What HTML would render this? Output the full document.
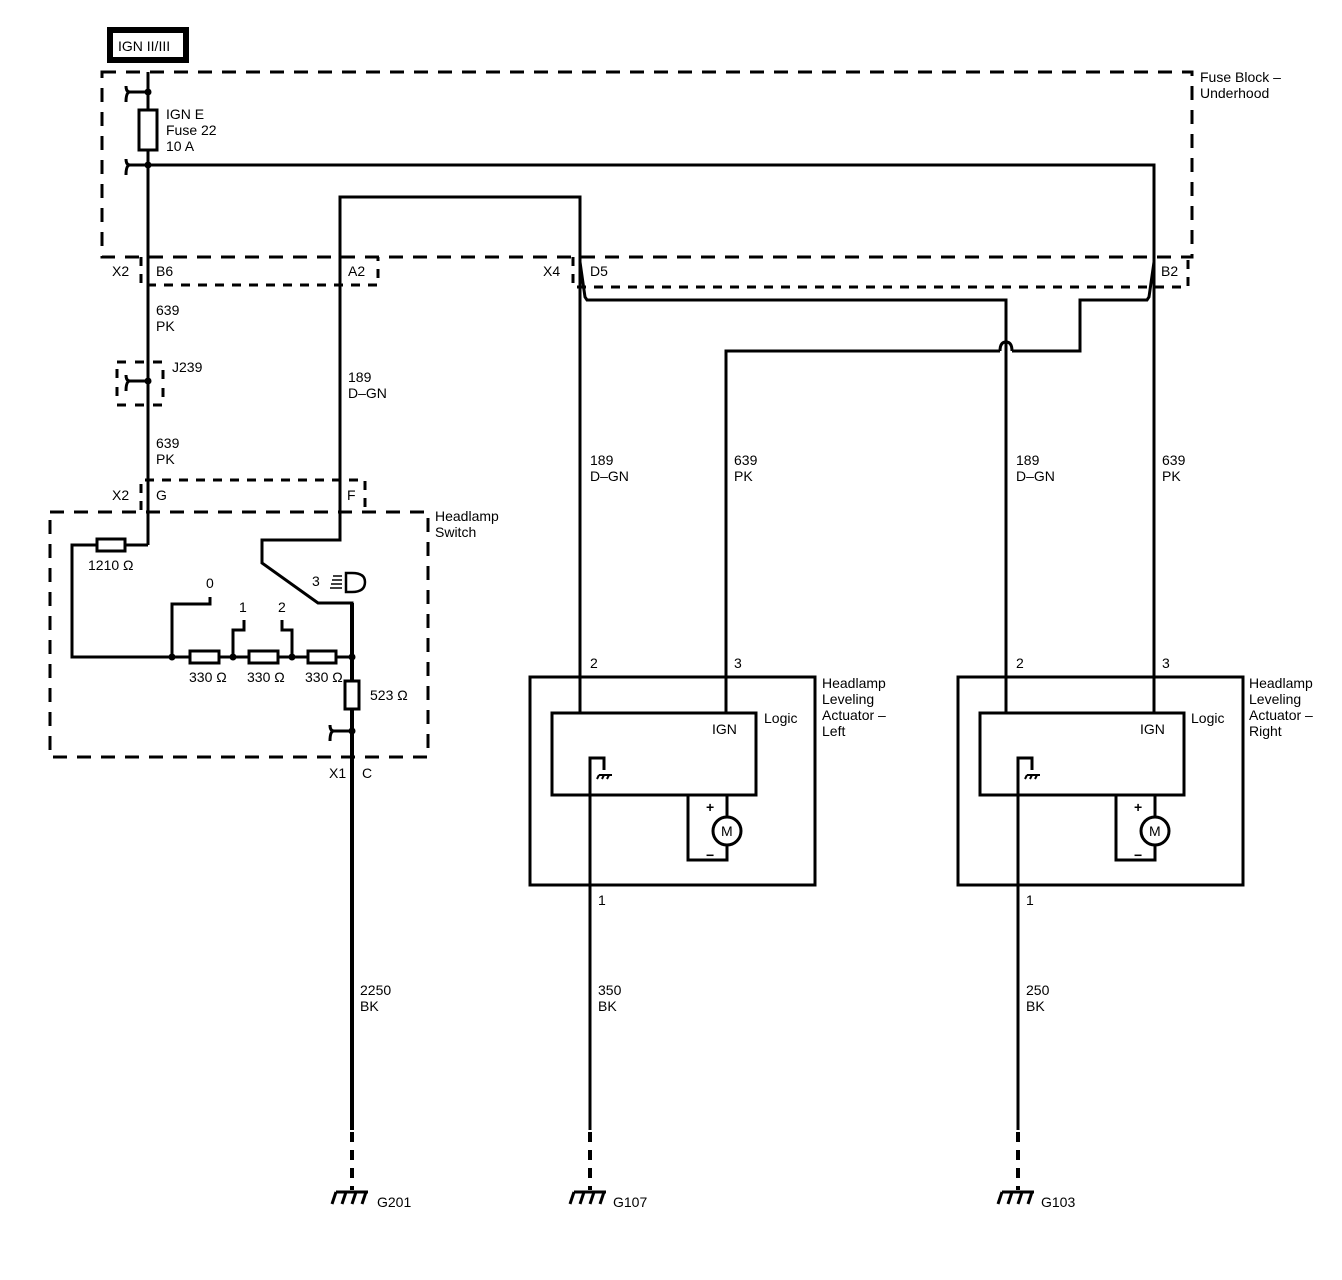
<!DOCTYPE html>
<html><head><meta charset="utf-8"><style>
html,body{margin:0;padding:0;background:#fff;}
svg{display:block;}
text{font-family:"Liberation Sans",sans-serif;font-size:14px;fill:#000;}
</style></head><body>
<svg width="1342" height="1280" viewBox="0 0 1342 1280" xmlns="http://www.w3.org/2000/svg">
<g fill="none" stroke="#000">
<!-- IGN box -->
<rect x="110" y="30" width="76" height="30" stroke-width="6"/>
<!-- dashed containers -->
<rect x="102" y="72" width="1090" height="185" stroke-width="3" stroke-dasharray="14,10"/>
<polyline points="141,257 141,285 378,285 378,257" stroke-width="3" stroke-dasharray="9,8"/>
<polyline points="573,257 573,287 1188,287 1188,257" stroke-width="3" stroke-dasharray="9,8"/>
<polyline points="141,510 141,480 365,480 365,510" stroke-width="3" stroke-dasharray="9,8"/>
<rect x="50" y="512" width="378" height="245" stroke-width="3" stroke-dasharray="14,10"/>
<rect x="117" y="362" width="46" height="43" stroke-width="3" stroke-dasharray="9,9"/>

<g stroke-width="3">
<!-- main feed -->
<line x1="148" y1="72" x2="148" y2="545"/>
<polyline points="148,165 1154,165 1154,713"/>
<!-- A2 wire -->
<polyline points="580,713 580,197 340,197 340,540 262,540 262,563 318,603 352,603 352,1130"/>
<!-- D5 crossover -->
<polyline points="580,262 585,297 587,300 1006,300 1006,713"/>
<!-- B2 crossover -->
<polyline points="1154,262 1149,297 1147,300 1080,300 1080,351 1012,351"/>
<path d="M1012,351 Q1012,342 1006,342 Q1000,342 1000,351"/>
<polyline points="1000,351 726,351 726,713"/>
<!-- switch internals -->
<polyline points="148,545 72,545 72,657 352,657"/>
<polyline points="172,657 172,604 210,604 210,597"/>
<polyline points="233,657 233,630 244,630 244,620"/>
<polyline points="292,657 292,630 282,630 282,620"/>
<!-- ground drops -->
<line x1="590" y1="758" x2="590" y2="1130"/>
<line x1="1018" y1="758" x2="1018" y2="1130"/>
</g>
<!-- heavier wire -->
<line x1="352" y1="603" x2="352" y2="1130" stroke-width="4"/>
<!-- dashed ground ends -->
<g stroke-width="4" stroke-dasharray="10,8">
<line x1="352" y1="1132" x2="352" y2="1190"/>
<line x1="590" y1="1132" x2="590" y2="1190"/>
<line x1="1018" y1="1132" x2="1018" y2="1190"/>
</g>
<!-- fuse & resistors -->
<g stroke-width="3" fill="#fff">
<rect x="139" y="110" width="18" height="40"/>
<rect x="97" y="539" width="28" height="12"/>
<rect x="190" y="651" width="29" height="12"/>
<rect x="249" y="651" width="29" height="12"/>
<rect x="308" y="651" width="28" height="12"/>
<rect x="345" y="681" width="14" height="28"/>
</g>
<!-- hooks -->
<g stroke-width="3">
<path d="M148,92 H130 M130,92 Q126,92 126,86 M130,92 Q126,92 126,102"/>
<path d="M148,165 H130 M130,165 Q126,165 126,159 M130,165 Q126,165 126,175"/>
<path d="M148,381 H130 M130,381 Q126,381 126,375 M130,381 Q126,381 126,391"/>
<path d="M352,731 H334 M334,731 Q330,731 330,725 M334,731 Q330,731 330,741"/>
</g>
<!-- ground symbols -->
<g stroke-width="3">
<path d="M336,1192 H368 M336,1192 L332,1204 M346,1192 L342,1204 M356,1192 L352,1204 M366,1192 L362,1204"/>
<path d="M574,1192 H606 M574,1192 L570,1204 M584,1192 L580,1204 M594,1192 L590,1204 M604,1192 L600,1204"/>
<path d="M1002,1192 H1034 M1002,1192 L998,1204 M1012,1192 L1008,1204 M1022,1192 L1018,1204 M1032,1192 L1028,1204"/>
</g>
<!-- headlamp icon -->
<g stroke-width="2.5">
<path d="M346,573 H352 Q365,573 365,582 Q365,592 352,592 H346 Z"/>
<path d="M333,576 H342 M332,580 H342 M331,584 H342 M330,588 H342" stroke-width="1.5"/>
</g>
<!-- actuators -->
<g id="act" stroke-width="3">
<rect x="530" y="677" width="285" height="208"/>
<rect x="552" y="713" width="204" height="82"/>
<polyline points="590,885 590,758 604,758 604,770"/>
<path d="M599,775 H612 M599,775 L597,779 M604,775 L602,779 M609,775 L607,779" stroke-width="2"/>
<polyline points="688,795 688,860 727,860 727,845"/>
<line x1="727" y1="795" x2="727" y2="817"/>
<circle cx="727" cy="831" r="14"/>
</g>
<use href="#act" transform="translate(428,0)"/>
</g>
<!-- dots -->
<g fill="#000">
<circle cx="148" cy="92" r="3.5"/><circle cx="148" cy="165" r="3.5"/><circle cx="148" cy="381" r="3.5"/>
<circle cx="172" cy="657" r="3.5"/><circle cx="233" cy="657" r="3.5"/><circle cx="292" cy="657" r="3.5"/><circle cx="352" cy="657" r="3.5"/><circle cx="352" cy="731" r="3.5"/>
</g>
<!-- text -->
<text x="118" y="51" font-size="13">IGN II/III</text>
<text x="166" y="119">IGN E</text><text x="166" y="135">Fuse 22</text><text x="166" y="151">10 A</text>
<text x="1200" y="82">Fuse Block –</text><text x="1200" y="98">Underhood</text>
<text x="112" y="276">X2</text><text x="156" y="276">B6</text><text x="348" y="276">A2</text>
<text x="543" y="276">X4</text><text x="590" y="276">D5</text><text x="1161" y="276">B2</text>
<text x="156" y="315">639</text><text x="156" y="331">PK</text>
<text x="172" y="372">J239</text>
<text x="156" y="448">639</text><text x="156" y="464">PK</text>
<text x="348" y="382">189</text><text x="348" y="398">D–GN</text>
<text x="112" y="500">X2</text><text x="156" y="500">G</text><text x="347" y="500">F</text>
<text x="435" y="521">Headlamp</text><text x="435" y="537">Switch</text>
<text x="88" y="570" font-size="13">1210 Ω</text>
<text x="206" y="588">0</text><text x="239" y="612">1</text><text x="278" y="612">2</text><text x="312" y="586">3</text>
<text x="189" y="682" font-size="13">330 Ω</text><text x="247" y="682" font-size="13">330 Ω</text><text x="305" y="682" font-size="13">330 Ω</text>
<text x="370" y="700" font-size="13">523 Ω</text>
<text x="329" y="778">X1</text><text x="362" y="778">C</text>
<text x="590" y="465">189</text><text x="590" y="481">D–GN</text>
<text x="734" y="465">639</text><text x="734" y="481">PK</text>
<text x="1016" y="465">189</text><text x="1016" y="481">D–GN</text>
<text x="1162" y="465">639</text><text x="1162" y="481">PK</text>
<text x="590" y="668">2</text><text x="734" y="668">3</text>
<text x="1016" y="668">2</text><text x="1162" y="668">3</text>
<text x="822" y="688">Headlamp</text><text x="822" y="704">Leveling</text><text x="822" y="720">Actuator –</text><text x="822" y="736">Left</text>
<text x="1249" y="688">Headlamp</text><text x="1249" y="704">Leveling</text><text x="1249" y="720">Actuator –</text><text x="1249" y="736">Right</text>
<text x="764" y="723">Logic</text><text x="1191" y="723">Logic</text>
<text x="712" y="734">IGN</text><text x="1140" y="734">IGN</text>
<text x="706" y="812" font-size="16" font-weight="bold">+</text><text x="1134" y="812" font-size="16" font-weight="bold">+</text>
<text x="706" y="860" font-size="16" font-weight="bold">−</text><text x="1134" y="860" font-size="16" font-weight="bold">−</text>
<text x="721" y="836" font-size="13">M</text><text x="1149" y="836" font-size="13">M</text>
<text x="598" y="905">1</text><text x="1026" y="905">1</text>
<text x="360" y="995">2250</text><text x="360" y="1011">BK</text>
<text x="598" y="995">350</text><text x="598" y="1011">BK</text>
<text x="1026" y="995">250</text><text x="1026" y="1011">BK</text>
<text x="377" y="1207">G201</text><text x="613" y="1207">G107</text><text x="1041" y="1207">G103</text>
</svg>
</body></html>
